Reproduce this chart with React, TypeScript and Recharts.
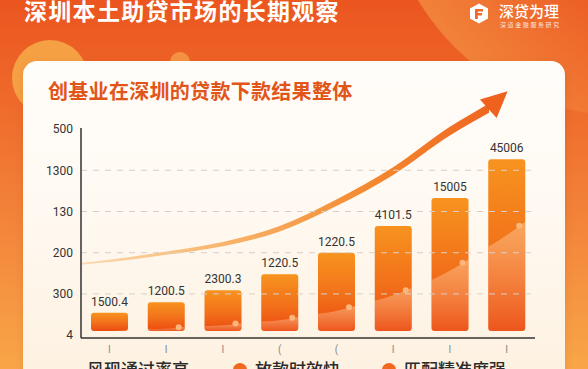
import React from 'react';
import { ComposedChart, Bar, XAxis, YAxis, ReferenceLine, Area, Scatter, LabelList } from 'recharts';

// ---------- data ----------
const CATEGORIES = ['I', 'I', 'I', '(', '(', 'I', 'I', 'I'];
const BAR_BASE = 0.1;
const BAR_TOPS = [0.54, 0.8, 1.09, 1.48, 2.0, 2.65, 3.33, 4.27];
const BAR_LABELS = ['1500.4', '1200.5', '2300.3', '1220.5', '1220.5', '4101.5', '15005', '45006'];
const BAR_TREND = [0.12, 0.17, 0.25, 0.37, 0.59, 0.95, 1.53, 2.45];
const Y_TICKS = [0, 1, 2, 3, 4, 5];
const Y_TICK_LABELS = ['4', '300', '200', '130', '1300', '500'];
const GRID_VALUES = [1, 2, 3, 4];
const CURVE_X = [0, 0.5, 1.5, 2.5, 3.5, 4.5, 5.5, 6.5, 7.19];
const CURVE_Y = [1.73, 1.8, 1.99, 2.21, 2.58, 3.21, 3.98, 4.95, 5.51];
const LEGEND = ['风现通过率高', '放款时效快', '匹配精准度强'];
const TITLE = '深圳本土助贷市场的长期观察';
const SUBTITLE = '创基业在深圳的贷款下款结果整体';
const LOGO = '深贷为理';
const LOGO_SUB = '深道金融服务研究';

const barData = CATEGORIES.map((c, i) => ({
  cat: String(i),
  range: [BAR_BASE, BAR_TOPS[i]],
  label: BAR_LABELS[i],
}));

const ribbon = (x: number) => 0.04 + 0.026 * x;
const curveData = CURVE_X.map((x, i) => ({
  x,
  band: [CURVE_Y[i] - ribbon(x) / 2, CURVE_Y[i] + ribbon(x) / 2],
}));
const arrowData = [{ x: CURVE_X[CURVE_X.length - 1], y: CURVE_Y[CURVE_Y.length - 1] }];

function BarShape(props: any) {
  const { x, y, width, height, index } = props;
  if (!height || height <= 0) return <g />;
  const top = BAR_TOPS[index];
  const ppu = height / (top - BAR_BASE);
  const toY = (v: number) => y + height - (v - BAR_BASE) * ppu;
  const t = BAR_TREND;
  const n = t.length;
  const prev = index > 0 ? t[index] - t[index - 1] : t[1] - t[0];
  const next = index < n - 1 ? t[index + 1] - t[index] : t[n - 1] - t[n - 2];
  const half = 0.33;
  const yl = toY(t[index] - half * prev);
  const yr = toY(t[index] + half * next);
  const dotX = x + width - 6;
  const dotY = yl + (yr - yl) * ((dotX - x) / width);
  const id = `bclip${index}`;
  return (
    <g>
      <clipPath id={id}>
        <rect x={x} y={y} width={width} height={height} rx={3} ry={3} />
      </clipPath>
      <rect x={x} y={y} width={width} height={height} rx={3} ry={3} fill="url(#barFill)" />
      <path
        d={`M${x},${yl} Q${x + width / 2},${(yl + yr) / 2 + 2} ${x + width},${yr} L${x + width},${y + height} L${x},${y + height} Z`}
        fill="url(#waveFill)"
        clipPath={`url(#${id})`}
      />
      {dotY < y + height - 3 && <circle cx={dotX} cy={dotY} r={3} fill="#fcb67c" />}
    </g>
  );
}

function ArrowHead(props: any) {
  const { cx, cy } = props;
  if (cx == null || cy == null) return <g />;
  return (
    <polygon
      points={`${cx - 1},${cy - 12.5} ${cx + 25},${cy} ${cx - 1},${cy + 12.5}`}
      transform={`rotate(-42 ${cx} ${cy})`}
      fill="#ef621e"
    />
  );
}

export default function App() {
  return (
    <div
      style={{
        position: 'absolute',
        left: 0,
        top: 0,
        width: 588,
        height: 369,
        overflow: 'hidden',
        background: 'linear-gradient(180deg, #eb5520 0%, #ee6628 22%, #f3843a 60%, #f8a648 100%)',
        fontFamily: '"Noto Sans CJK SC", "Noto Sans", sans-serif',
      }}
    >
      {/* decorative circles */}
      <div
        style={{
          position: 'absolute',
          left: 385,
          top: -355,
          width: 470,
          height: 470,
          borderRadius: '50%',
          background: 'linear-gradient(250deg, rgba(238,100,40,0) 55%, rgba(246,160,75,0.8) 100%)',
        }}
      />
      <div style={{ position: 'absolute', left: 12, top: 40, width: 76, height: 76, borderRadius: '50%', background: '#f6a044' }} />
      <div style={{ position: 'absolute', left: 170, top: 52, width: 20, height: 20, borderRadius: '50%', background: '#f49442' }} />

      {/* main title */}
      <div
        style={{
          position: 'absolute',
          left: 24,
          top: -2,
          fontSize: 23,
          lineHeight: '24px',
          letterSpacing: 1.3,
          color: '#ffffff',
          fontWeight: 700,
          whiteSpace: 'nowrap',
        }}
      >
        {TITLE}
      </div>

      {/* logo */}
      <svg style={{ position: 'absolute', left: 469, top: 3 }} width={20} height={21} viewBox="0 0 20 21">
        <polygon points="10,0.5 19,5.5 19,15.5 10,20.5 1,15.5 1,5.5" fill="#ffffff" />
        <path d="M6,6 L14,6 L14,8.5 L8.8,8.5 L8.8,10 L13,10 L13,12.4 L8.8,12.4 L8.8,16 L6,16 Z" fill="#ef6a2a" />
      </svg>
      <div
        style={{
          position: 'absolute',
          left: 499,
          top: 3,
          fontSize: 15,
          lineHeight: '16px',
          color: '#ffffff',
          fontWeight: 500,
          whiteSpace: 'nowrap',
        }}
      >
        {LOGO}
      </div>
      <div
        style={{
          position: 'absolute',
          left: 500,
          top: 21,
          fontSize: 6,
          lineHeight: '7px',
          letterSpacing: 1.6,
          color: 'rgba(255,255,255,0.85)',
          whiteSpace: 'nowrap',
        }}
      >
        {LOGO_SUB}
      </div>

      {/* card */}
      <div
        style={{
          position: 'absolute',
          left: 23,
          top: 61,
          width: 542,
          height: 340,
          borderRadius: 14,
          background: 'linear-gradient(180deg, #fffdfa 0%, #fff9f1 45%, #fdf0de 100%)',
          boxShadow: '0 2px 8px rgba(120,40,0,0.12)',
        }}
      />
      <div
        style={{
          position: 'absolute',
          left: 48,
          top: 81,
          fontSize: 20,
          lineHeight: '20px',
          letterSpacing: 0.3,
          color: '#e25518',
          fontWeight: 700,
          whiteSpace: 'nowrap',
        }}
      >
        {SUBTITLE}
      </div>

      <div style={{ position: 'absolute', left: 0, top: 0 }}>
        <ComposedChart width={588} height={369} data={barData} margin={{ top: 85, right: 53, bottom: 1, left: 21 }}>
          <defs>
            <linearGradient id="barFill" x1="0" y1="0" x2="0" y2="1">
              <stop offset="0%" stopColor="#f7931f" />
              <stop offset="55%" stopColor="#f2701a" />
              <stop offset="100%" stopColor="#ec4a10" />
            </linearGradient>
            <linearGradient id="waveFill" x1="0" y1="0" x2="0" y2="1">
              <stop offset="0%" stopColor="#ffd9b0" stopOpacity={0.45} />
              <stop offset="100%" stopColor="#ffd9b0" stopOpacity={0.08} />
            </linearGradient>
            <linearGradient id="curveGrad" x1="0" y1="0" x2="1" y2="0">
              <stop offset="0%" stopColor="#fcd9ad" />
              <stop offset="35%" stopColor="#f8b56c" />
              <stop offset="70%" stopColor="#f48a30" />
              <stop offset="100%" stopColor="#ef6620" />
            </linearGradient>
          </defs>
          <XAxis
            dataKey="cat"
            type="category"
            height={30}
            tickLine={false}
            axisLine={{ stroke: '#333333', strokeWidth: 1.5 }}
            tick={{ fill: '#888888', fontSize: 10, fontFamily: 'Roboto' }}
            tickFormatter={(v: any) => CATEGORIES[Number(v)]}
            interval={0}
          />
          <XAxis xAxisId="curve" dataKey="x" type="number" domain={[0, 8]} hide />
          <YAxis
            type="number"
            domain={[-0.07, 6.07]}
            ticks={Y_TICKS}
            width={60}
            tickLine={false}
            axisLine={{ stroke: '#333333', strokeWidth: 1.5, strokeDasharray: '0 43 400' }}
            tick={{ fill: '#333333', fontSize: 12, fontFamily: 'Roboto' }}
            tickFormatter={(v: any) => Y_TICK_LABELS[Y_TICKS.indexOf(v)] ?? ''}
          />
          {GRID_VALUES.map((v) => (
            <ReferenceLine key={v} y={v} stroke="#d8d0c8" strokeDasharray="6 6" strokeWidth={1} />
          ))}
          <Bar dataKey="range" barSize={37} shape={BarShape} isAnimationActive={false}>
            <LabelList dataKey="label" position="top" offset={7} fill="#333333" fontSize={12} fontFamily="Roboto" />
          </Bar>
          <Area
            xAxisId="curve"
            data={curveData}
            dataKey="band"
            type="monotone"
            stroke="none"
            fill="url(#curveGrad)"
            fillOpacity={1}
            dot={false}
            activeDot={false}
            isAnimationActive={false}
          />
          <Scatter xAxisId="curve" data={arrowData} dataKey="y" shape={ArrowHead} isAnimationActive={false} />
        </ComposedChart>
      </div>

      {/* legend */}
      <div
        style={{
          position: 'absolute',
          left: 65,
          top: 360,
          display: 'flex',
          alignItems: 'flex-start',
          fontSize: 17,
          lineHeight: '17px',
          color: '#2b2b2b',
          fontWeight: 500,
          whiteSpace: 'nowrap',
        }}
      >
        {LEGEND.map((name, i) => (
          <div key={name} style={{ display: 'flex', alignItems: 'flex-start', marginRight: i === 0 ? 44 : 42 }}>
            <div
              style={{
                width: 14,
                height: 14,
                borderRadius: 7,
                marginTop: 3,
                marginRight: 8,
                background: '#f0691f',
                visibility: i === 0 ? 'hidden' : 'visible',
              }}
            />
            <span>{name}</span>
          </div>
        ))}
      </div>
    </div>
  );
}
